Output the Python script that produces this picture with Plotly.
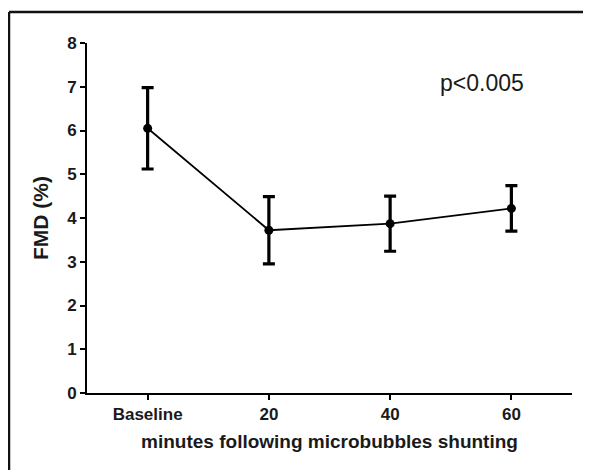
import plotly.graph_objects as go

# Data
categories = ["Baseline", "20", "40", "60"]
fmd_mean = [6.05, 3.72, 3.87, 4.22]
fmd_sem = [0.93, 0.77, 0.63, 0.52]
y_ticks = [0, 1, 2, 3, 4, 5, 6, 7, 8]

# The page body has an 8px margin, so the figure is drawn 8px in from the window edge.
OFF = 8
W, H = 591 - OFF, 470 - OFF
ML, MR, MT, MB = 87 - OFF, 19, 43 - OFF, 77
FONT = "Liberation Sans, Arial, Helvetica, sans-serif"

x_idx = list(range(len(categories)))

fig = go.Figure()
fig.add_trace(go.Scatter(
    x=x_idx, y=fmd_mean, mode="lines+markers",
    line=dict(color="black", width=1.8),
    marker=dict(color="black", size=9, symbol="circle"),
    error_y=dict(type="data", array=fmd_sem, visible=True,
                 color="black", thickness=3.2, width=6),
    showlegend=False, cliponaxis=False,
))

pw = W - ML - MR
ph = H - MT - MB
def px_to_paper_x(px):
    return (px - ML) / pw
def px_to_paper_y(py):
    return (H - MB - py) / ph

fig.update_layout(
    width=W, height=H,
    margin=dict(l=ML, r=MR, t=MT, b=MB, pad=0),
    paper_bgcolor="white", plot_bgcolor="white",
    font=dict(family=FONT, color="black"),
    xaxis=dict(
        range=[-0.5, 3.5], tickmode="array", tickvals=x_idx, ticktext=categories,
        showline=True, linecolor="black", linewidth=2, mirror=False,
        ticks="outside", ticklen=5, tickwidth=2, tickcolor="black",
        showgrid=False, zeroline=False,
        tickfont=dict(family=FONT, size=17, color="#1a1a1a", weight="bold"),
        title=dict(text="minutes following microbubbles shunting",
                   font=dict(family=FONT, size=19, color="#1a1a1a", weight="bold"),
                   standoff=11),
    ),
    yaxis=dict(
        range=[0, 8], tickmode="array", tickvals=y_ticks,
        ticktext=[str(v) for v in y_ticks],
        showline=True, linecolor="black", linewidth=2,
        ticks="outside", ticklen=5, tickwidth=2, tickcolor="black",
        showgrid=False, zeroline=False,
        tickfont=dict(family=FONT, size=17, color="#1a1a1a", weight="bold"),
        title=dict(text="FMD (%)",
                   font=dict(family=FONT, size=21, color="#1a1a1a", weight="bold"),
                   standoff=13),
    ),
    annotations=[dict(
        x=2.755, y=7.08, xref="x", yref="y", text="p<0.005", showarrow=False,
        font=dict(family=FONT, size=23, color="#1a1a1a"),
        xanchor="center", yanchor="middle",
    )],
    shapes=[
        dict(type="line", xref="paper", yref="paper",
             x0=px_to_paper_x(9 - OFF), x1=px_to_paper_x(W + 5),
             y0=px_to_paper_y(12 - OFF), y1=px_to_paper_y(12 - OFF),
             line=dict(color="#111111", width=2.5)),
        dict(type="line", xref="paper", yref="paper",
             x0=px_to_paper_x(9 - OFF), x1=px_to_paper_x(9 - OFF),
             y0=px_to_paper_y(12 - OFF), y1=px_to_paper_y(H + 5),
             line=dict(color="#111111", width=2.5)),
    ],
)

fig.write_html("out.html")
